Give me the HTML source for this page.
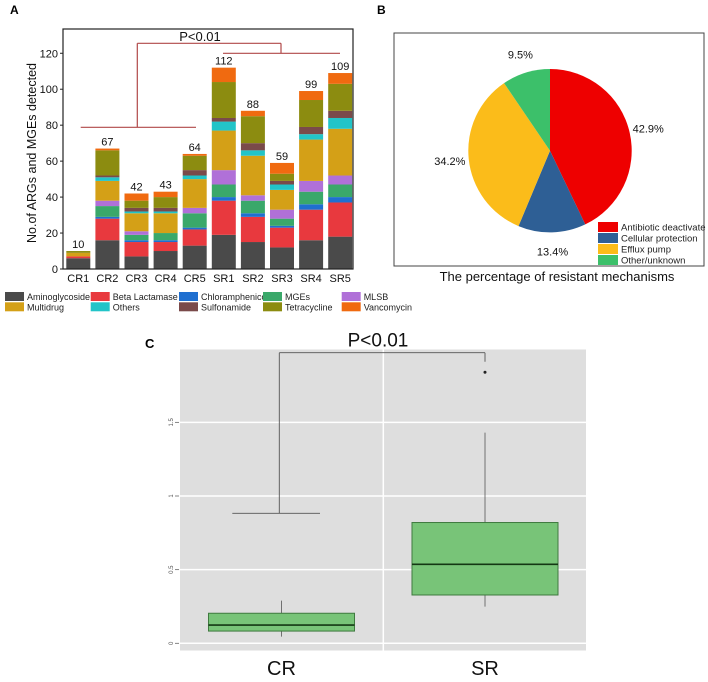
<!DOCTYPE html>
<html><head><meta charset="utf-8"><style>
body{margin:0;background:#fff;font-family:"Liberation Sans",sans-serif;overflow:hidden}
svg text{font-family:"Liberation Sans",sans-serif}
</style></head><body>
<svg id="fig" width="708" height="682" viewBox="0 0 708 682" xmlns="http://www.w3.org/2000/svg" style="display:block">
<text x="10" y="14" font-size="12" font-weight="bold">A</text>
<text x="377" y="14" font-size="12" font-weight="bold">B</text>
<text x="145" y="348" font-size="13" font-weight="bold">C</text>
<g id="pa"></g>
<g id="pb"></g>
<g id="pc"></g>
</svg>
<script>
const NS="http://www.w3.org/2000/svg";
function mk(p,t,a,txt){const e=document.createElementNS(NS,t);for(const k in a)e.setAttribute(k,a[k]);if(txt!==undefined)e.textContent=txt;p.appendChild(e);return e;}

// ---- Panel A data ----
const samples=["CR1","CR2","CR3","CR4","CR5","SR1","SR2","SR3","SR4","SR5"];
const categories=["Aminoglycoside","Beta Lactamase","Chloramphenicol","MGEs","MLSB","Multidrug","Others","Sulfonamide","Tetracycline","Vancomycin"];
const catColors=["#4a4a4a","#e8393e","#1f6fd0","#3aa86a","#b070d8","#d4a017","#22c4c8","#7a4a4a","#8c8c10","#f06a10"];
const aminoglycoside=[6,16,7,10,13,19,15,12,16,18];
const betaLactamase=[1,12,8,5,9,19,14,11,17,19];
const chloramphenicol=[0,1,1,1,1,2,2,1,3,3];
const mges=[0,6,3,4,8,7,7,4,7,7];
const mlsb=[0,3,2,0,3,8,3,5,6,5];
const multidrug=[2,11,10,11,16,22,22,11,23,26];
const others=[0,2,1,1,2,5,3,3,3,6];
const sulfonamide=[0,1,2,2,3,2,4,2,4,4];
const tetracycline=[1,14,4,6,8,20,15,4,15,15];
const vancomycin=[0,1,4,3,1,8,3,6,5,6];
const yTicksA=[0,20,40,60,80,100,120];

const pa=document.getElementById('pa');
const ax0=63,ax1=353,ay0=29,ay1=269,yMaxA=133.5;
const yA=v=>ay1-v/yMaxA*(ay1-ay0);
const xA=i=>78.3+i*29.1;
const series=[aminoglycoside,betaLactamase,chloramphenicol,mges,mlsb,multidrug,others,sulfonamide,tetracycline,vancomycin];
samples.forEach((s,i)=>{
  let acc=0;
  series.forEach((ser,k)=>{
    const v=ser[i];if(!v)return;
    const r=mk(pa,'rect',{x:xA(i)-12,y:yA(acc+v),width:24,height:yA(acc)-yA(acc+v),fill:catColors[k]});
    
    
    acc+=v;
  });
  const t=mk(pa,'text',{x:xA(i),y:yA(acc)-3,'font-size':11,'text-anchor':'middle',fill:'#111'},acc);
  
  
  const xl=mk(pa,'text',{x:xA(i),y:ay1+13,'font-size':11,'text-anchor':'middle',fill:'#111'},s);
  
  
});
const fr=mk(pa,'rect',{x:ax0,y:ay0,width:ax1-ax0,height:ay1-ay0,fill:'none',stroke:'#222','stroke-width':1.2});


yTicksA.forEach(v=>{
  mk(pa,'line',{x1:ax0-3,x2:ax0,y1:yA(v),y2:yA(v),stroke:'#222'});
  const t=mk(pa,'text',{x:ax0-5,y:yA(v)+4,'font-size':11,'text-anchor':'end',fill:'#111'},v);
  
  
});
const yt=mk(pa,'text',{x:0,y:0,'font-size':12.5,'text-anchor':'middle',transform:'translate(36,153) rotate(-90)',fill:'#111'},'No.of ARGs and MGEs detected');


const brc='#b04848';
[[80.7,127.3,196,127.3],[137.3,127.3,137.3,43.3],[137.3,43.3,281,43.3],[281,43.3,281,53.3],[223,53.3,340,53.3]].forEach(l=>{
  mk(pa,'line',{x1:l[0],y1:l[1],x2:l[2],y2:l[3],stroke:brc,'stroke-width':1.2});
});
const pt=mk(pa,'text',{x:200,y:41,'font-size':13,'text-anchor':'middle',fill:'#111'},'P<0.01');


const legX=[5,90.7,179,263,341.7];
categories.forEach((c,k)=>{
  const col=k%5,row=Math.floor(k/5);
  const y=292+row*10.3;
  const g=mk(pa,'g',{});
  
  
  mk(g,'rect',{x:legX[col],y:y,width:19,height:9,fill:catColors[k]});
  mk(g,'text',{x:legX[col]+22,y:y+8,'font-size':9,fill:'#222'},c);
});

// ---- Panel B data ----
const mechs=["Antibiotic deactivate","Cellular protection","Efflux pump","Other/unknown"];
const mechPct=[42.9,13.4,34.2,9.5];
const mechColors=["#ee0000","#2e5f95","#fbbc1a","#3cc06a"];
const pb=document.getElementById('pb');
const bf=mk(pb,'rect',{x:394,y:33,width:310,height:233,fill:'#fff',stroke:'#444','stroke-width':1});


const cx=550,cy=150.7,R=81.7;
let a0=0;const tot=mechPct.reduce((a,b)=>a+b,0);
mechPct.forEach((p,k)=>{
  const a1=a0+p/tot*2*Math.PI;
  const P=a=>[cx+R*Math.sin(a),cy-R*Math.cos(a)];
  const s=P(a0),e=P(a1);
  const sl=mk(pb,'path',{d:`M${cx},${cy}L${s[0]},${s[1]}A${R},${R} 0 ${a1-a0>Math.PI?1:0} 1 ${e[0]},${e[1]}Z`,fill:mechColors[k]});
  
  
  const am=(a0+a1)/2,lr=R+19;
  const lt=mk(pb,'text',{x:cx+lr*Math.sin(am),y:cy-lr*Math.cos(am)+4,'font-size':11,'text-anchor':'middle',fill:'#111'},p.toFixed(1)+'%');
  
  
  a0=a1;
});
mechs.forEach((m,k)=>{
  const g=mk(pb,'g',{});
  
  
  mk(g,'rect',{x:598,y:222+k*11,width:20,height:10,fill:mechColors[k]});
  mk(g,'text',{x:621,y:230.5+k*11,'font-size':9.5,fill:'#222'},m);
});
const bt=mk(pb,'text',{x:557,y:281,'font-size':13,'text-anchor':'middle',fill:'#111'},'The percentage of resistant mechanisms');



// ---- Panel C data ----
const groups=["CR","SR"];
const whiskerLow=[0.045,0.249];
const q1=[0.083,0.328];
const medians=[0.124,0.536];
const q3=[0.204,0.82];
const whiskerHigh=[0.29,1.43];
const outliers=[[],[1.84]];
const yTicksC=[0,0.5,1,1.5];
const pc=document.getElementById('pc');
const cx0=180,cx1=586,cy0=349.5,cy1=650.5;
const yC=v=>643.3-v*147.3;
const xC=i=>[281.5,485][i];
const bg=mk(pc,'rect',{x:cx0,y:cy0,width:cx1-cx0,height:cy1-cy0,fill:'#dedede'});


yTicksC.forEach(v=>{
  mk(pc,'line',{x1:cx0,x2:cx1,y1:yC(v),y2:yC(v),stroke:'#fff','stroke-width':1.5});
  mk(pc,'line',{x1:175,x2:179,y1:yC(v),y2:yC(v),stroke:'#666','stroke-width':0.8});
  const t=mk(pc,'text',{x:0,y:0,'font-size':6,'text-anchor':'middle',fill:'#555',transform:`translate(173,${yC(v)}) rotate(-90)`},String(v));
  
  
});
mk(pc,'line',{x1:383.3,x2:383.3,y1:cy0,y2:cy1,stroke:'#fff','stroke-width':1.5});
groups.forEach((g,i)=>{
  const x=xC(i),hw=73;
  const gg=mk(pc,'g',{});
  
  
  mk(gg,'line',{x1:x,x2:x,y1:yC(whiskerLow[i]),y2:yC(whiskerHigh[i]),stroke:'#555','stroke-width':0.8});
  mk(gg,'rect',{x:x-hw,y:yC(q3[i]),width:2*hw,height:yC(q1[i])-yC(q3[i]),fill:'#78c478',stroke:'#3f7a3f','stroke-width':1});
  mk(gg,'line',{x1:x-hw,x2:x+hw,y1:yC(medians[i]),y2:yC(medians[i]),stroke:'#143814','stroke-width':1.6});
  outliers[i].forEach(o=>mk(gg,'circle',{cx:x,cy:yC(o),r:1.5,fill:'#222'}));
  const t=mk(pc,'text',{x:x,y:675,'font-size':20,'text-anchor':'middle',fill:'#111'},g);
  
  
});
[[232.3,513.3,320,513.3],[279.3,513.3,279.3,352.7],[279.3,352.7,485,352.7],[485,352.7,485,361.7]].forEach(l=>{
  mk(pc,'line',{x1:l[0],y1:l[1],x2:l[2],y2:l[3],stroke:'#555','stroke-width':0.9});
});
const cp=mk(pc,'text',{x:378,y:346.5,'font-size':19,'text-anchor':'middle',fill:'#111'},'P<0.01');


</script>
</body></html>
